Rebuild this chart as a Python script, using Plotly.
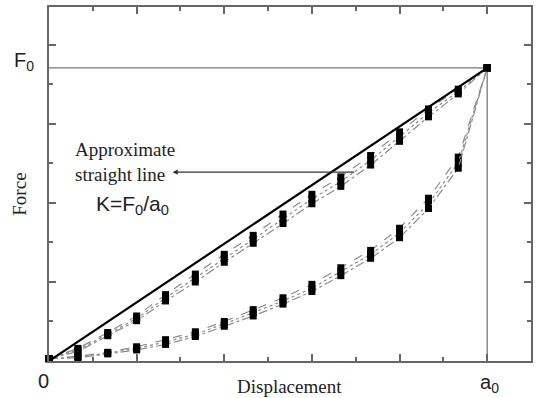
import plotly.graph_objects as go

# Normalised displacement samples (a0 = 5) and the peak force F0
a0 = 5.0
F0 = 3.71
disp = [0, 0.33, 0.67, 1.0, 1.33, 1.67, 2.0, 2.33, 2.67, 3.0, 3.33, 3.67, 4.0, 4.33, 4.67, 5.0]

# Upper family of force-displacement curves
upper_a = [0.03, 0.16, 0.36, 0.57, 0.84, 1.10, 1.35, 1.59, 1.86, 2.11, 2.33, 2.60, 2.90, 3.19, 3.44, 3.71]
upper_b = [0.03, 0.14, 0.34, 0.54, 0.80, 1.05, 1.30, 1.54, 1.80, 2.05, 2.27, 2.54, 2.84, 3.14, 3.41, 3.71]
upper_c = [0.03, 0.12, 0.32, 0.51, 0.76, 1.00, 1.25, 1.49, 1.74, 1.99, 2.21, 2.48, 2.78, 3.09, 3.38, 3.71]

# Lower family of force-displacement curves
lower_a = [0.03, 0.06, 0.11, 0.18, 0.27, 0.37, 0.50, 0.65, 0.80, 0.97, 1.18, 1.40, 1.68, 2.06, 2.58, 3.71]
lower_b = [0.03, 0.05, 0.10, 0.16, 0.24, 0.34, 0.47, 0.61, 0.76, 0.92, 1.13, 1.35, 1.62, 1.99, 2.51, 3.71]
lower_c = [0.03, 0.04, 0.09, 0.14, 0.21, 0.31, 0.44, 0.57, 0.72, 0.88, 1.08, 1.30, 1.56, 1.93, 2.44, 3.71]

# Secant stiffness line K = F0 / a0
secant_x = [0, a0]
secant_y = [0, F0]

SERIF = "Liberation Serif"
SANS = "Liberation Sans"
AXIS_GRAY = "#666666"
TEXT = "#222222"

fig = go.Figure()

# Reference lines at F0 and a0
fig.add_trace(go.Scatter(x=[0, a0], y=[F0, F0], mode="lines",
                         line=dict(color="#777777", width=1.3), hoverinfo="skip"))
fig.add_trace(go.Scatter(x=[a0, a0], y=[0, F0], mode="lines",
                         line=dict(color="#777777", width=1.3), hoverinfo="skip"))

dashes = ["dash", "dot", "dashdot"]
for family in ([upper_a, upper_b, upper_c], [lower_a, lower_b, lower_c]):
    for ys, dash in zip(family, dashes):
        fig.add_trace(go.Scatter(
            x=disp, y=ys, mode="lines+markers", cliponaxis=False,
            line=dict(color="#8c8c8c", width=1.2, dash=dash),
            marker=dict(symbol="square", size=7, color="black",
                        line=dict(width=0)),
        ))

fig.add_trace(go.Scatter(x=secant_x, y=secant_y, mode="lines",
                         line=dict(color="black", width=2.2)))

axis_common = dict(
    showline=True, linecolor=AXIS_GRAY, linewidth=2.2, mirror="ticks",
    ticks="inside", ticklen=7, tickwidth=2, tickcolor=AXIS_GRAY,
    showgrid=False, zeroline=False, showticklabels=False,
    minor=dict(ticks="inside", ticklen=4, tickwidth=2, tickcolor=AXIS_GRAY,
               showgrid=False),
)

fig.update_xaxes(range=[0, 5.5], dtick=1, tick0=0, minor_dtick=0.5, **axis_common)
fig.update_yaxes(range=[0, 4.48], dtick=1, tick0=0, minor_dtick=0.5, **axis_common)

annotations = [
    dict(xref="paper", x=-0.027, yref="y", y=F0, yshift=6, text="F<sub>0</sub>",
         xanchor="right", yanchor="middle", showarrow=False,
         font=dict(family=SANS, size=20, color=TEXT)),
    dict(xref="paper", x=-0.012, yref="paper", y=-0.056, text="0",
         xanchor="center", yanchor="middle", showarrow=False,
         font=dict(family=SANS, size=20, color=TEXT)),
    dict(xref="x", x=a0, xshift=2, yref="paper", y=-0.064, text="a<sub>0</sub>",
         xanchor="center", yanchor="middle", showarrow=False,
         font=dict(family=SANS, size=20, color=TEXT)),
    dict(xref="paper", x=0.498, yref="paper", y=-0.072, text="Displacement",
         xanchor="center", yanchor="middle", showarrow=False,
         font=dict(family=SERIF, size=19, color=TEXT)),
    dict(xref="paper", x=-0.06, yref="paper", y=0.47, text="Force", textangle=-90,
         xanchor="center", yanchor="middle", showarrow=False,
         font=dict(family=SERIF, size=19, color=TEXT)),
    dict(x=0.27, y=2.52, text="Approximate<br>straight line", xanchor="left",
         yanchor="middle", align="left", showarrow=False,
         font=dict(family=SERIF, size=19, color=TEXT)),
    dict(x=0.51, y=1.97, text="K=F<sub>0</sub>/a<sub>0</sub>", xanchor="left",
         yanchor="middle", showarrow=False,
         font=dict(family=SANS, size=21, color=TEXT)),
    dict(x=1.41, y=2.39, ax=3.5, ay=2.39, axref="x", ayref="y", text="",
         showarrow=True, arrowhead=2, arrowsize=0.8, arrowwidth=1.3,
         arrowcolor="#333"),
]

fig.update_layout(
    width=537, height=398,
    margin=dict(l=49, r=4, t=7, b=37),
    plot_bgcolor="white", paper_bgcolor="white",
    showlegend=False,
    annotations=annotations,
)

fig.write_html("out.html")
